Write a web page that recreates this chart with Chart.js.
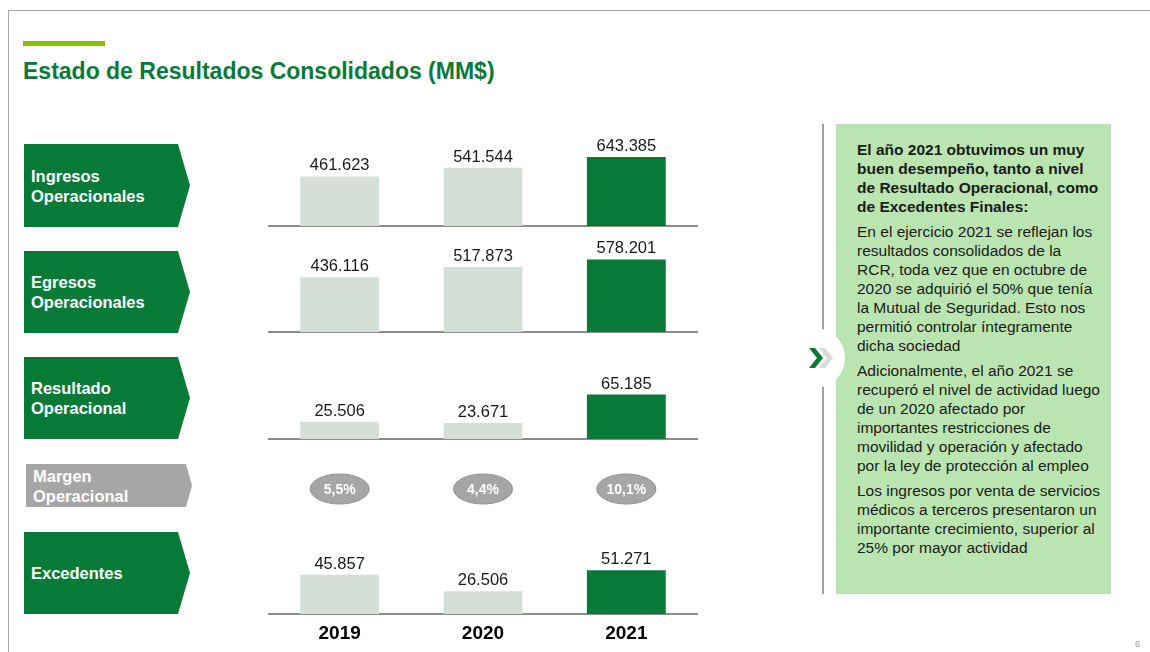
<!DOCTYPE html>
<html>
<head>
<meta charset="utf-8">
<script src="https://cdn.jsdelivr.net/npm/chart.js@4.4.1/dist/chart.umd.min.js"></script>
<style>
  body { margin: 0; background: #fff; font-family: "Liberation Sans", Arial, sans-serif; }
  #slide { position: relative; width: 1150px; height: 652px; overflow: hidden; }
  .frame { position: absolute; left: 8px; top: 10px; width: 1200px; height: 700px;
           border-top: 1.5px solid #a6a6a6; border-left: 1.5px solid #a6a6a6; }
  .accent { position: absolute; left: 23px; top: 41px; width: 82px; height: 5px; background: #86bc0c; }
  .title { position: absolute; left: 23px; top: 59px; line-height: 24px; font-size: 23px;
           font-weight: bold; color: #077a3a; white-space: nowrap; }
  .tag { position: absolute; left: 24px; width: 166px; color: #fff; font-weight: bold;
         font-size: 16.5px; line-height: 20px; display: flex; align-items: center;
         padding-left: 7px; box-sizing: border-box; background: #077a38; white-space: nowrap;
         clip-path: polygon(0 0, 154px 0, 100% 50%, 154px 100%, 0 100%); }
  .tag.grey { background: #a6a6a6; left: 26px; clip-path: polygon(0 0, 160px 0, 100% 50%, 160px 100%, 0 100%); }
  canvas { position: absolute; left: 268px; }
  .vline { position: absolute; left: 822px; top: 124px; width: 2px; height: 470px; background: #a0a0a0; }
  .box { position: absolute; left: 836px; top: 124px; width: 275px; height: 470px; background: #bbe5b0;
         box-sizing: border-box; padding: 16px 0 0 21px; font-size: 15.5px; line-height: 19px;
         color: #1a1a1a; white-space: nowrap; }
  .box p { margin: 0 0 6px 0; }
  .circle { position: absolute; left: 785px; top: 328px; width: 60px; height: 60px; border-radius: 50%; background: #fff; }
  .chev { position: absolute; top: 348px; width: 14px; height: 20px;
          clip-path: polygon(0 0, 6px 0, 100% 50%, 6px 100%, 0 100%, 8px 50%); }
  .pnum { position: absolute; left: 1135px; top: 639px; font-size: 9px; color: #999; }
</style>
</head>
<body>
<div id="slide">
  <div class="frame"></div>
  <div class="accent"></div>
  <div class="title">Estado de Resultados Consolidados (MM$)</div>

  <div class="tag" style="top:144px;height:83px;">Ingresos<br>Operacionales</div>
  <div class="tag" style="top:251px;height:82px;">Egresos<br>Operacionales</div>
  <div class="tag" style="top:357px;height:82px;">Resultado<br>Operacional</div>
  <div class="tag grey" style="top:464px;height:43px;">Margen<br>Operacional</div>
  <div class="tag" style="top:532px;height:82px;">Excedentes</div>

  <canvas id="ingresos" width="430" height="96" style="top:132px"></canvas>
  <canvas id="egresos" width="430" height="96" style="top:238px"></canvas>
  <canvas id="resultado" width="430" height="96" style="top:345px"></canvas>
  <canvas id="margen" width="430" height="38" style="top:470px"></canvas>
  <canvas id="excedentes" width="430" height="130" style="top:520px"></canvas>

  <div class="vline"></div>
  <div class="box">
    <p><b>El año 2021 obtuvimos un muy<br>buen desempeño, tanto a nivel<br>de Resultado Operacional, como<br>de Excedentes Finales:</b></p>
    <p>En el ejercicio 2021 se reflejan los<br>resultados consolidados de la<br>RCR, toda vez que en octubre de<br>2020 se adquirió el 50% que tenía<br>la Mutual de Seguridad. Esto nos<br>permitió controlar íntegramente<br>dicha sociedad</p>
    <p>Adicionalmente, el año 2021 se<br>recuperó el nivel de actividad luego<br>de un 2020 afectado por<br>importantes restricciones de<br>movilidad y operación y afectado<br>por la ley de protección al empleo</p>
    <p>Los ingresos por venta de servicios<br>médicos a terceros presentaron un<br>importante crecimiento, superior al<br>25% por mayor actividad</p>
  </div>
  <div class="circle"></div>
  <div class="chev" style="left:819px;background:#d5ddd6;"></div>
  <div class="chev" style="left:809px;background:#077a38;"></div>
  <div class="pnum">6</div>
</div>

<script>
var years = ['2019', '2020', '2021'];
var ingresos = [461623, 541544, 643385];
var egresos = [436116, 517873, 578201];
var resultado = [25506, 23671, 65185];
var margen = [5.5, 4.4, 10.1];
var excedentes = [45857, 26506, 51271];

var verdeClaro = '#d5dfd7';
var verde = '#077a38';

Chart.defaults.font.family = '"Liberation Sans", Arial, sans-serif';

function miles(v) {
    return String(v).replace(/\B(?=(\d{3})+(?!\d))/g, '.');
}

// etiquetas sobre las barras
var etiquetas = {
    id: 'etiquetas',
    afterDatasetsDraw: function (chart) {
        var ctx = chart.ctx;
        var meta = chart.getDatasetMeta(0);
        ctx.save();
        ctx.font = '16.5px "Liberation Sans", Arial, sans-serif';
        ctx.fillStyle = '#1a1a1a';
        ctx.textAlign = 'center';
        ctx.textBaseline = 'alphabetic';
        meta.data.forEach(function (bar, i) {
            ctx.fillText(miles(chart.data.datasets[0].data[i]), bar.x, bar.y - 6);
        });
        ctx.restore();
    }
};

function creaGrafico(id, valores, maximo, conAnios) {
    var alto = conAnios ? 36 : 2;
    return new Chart(document.getElementById(id), {
        type: 'bar',
        data: {
            labels: years,
            datasets: [{
                data: valores,
                backgroundColor: [verdeClaro, verdeClaro, verde],
                borderWidth: 0,
                barPercentage: 0.55,
                categoryPercentage: 1
            }]
        },
        options: {
            responsive: false,
            animation: false,
            events: [],
            layout: { padding: 0 },
            plugins: { legend: { display: false }, tooltip: { enabled: false } },
            scales: {
                x: {
                    grid: { display: false },
                    border: { display: true, color: '#8c8c8c', width: 2 },
                    ticks: {
                        display: conAnios,
                        color: '#000',
                        padding: 0,
                        font: { size: 19, weight: 'bold' }
                    },
                    afterFit: function (s) { s.height = alto; }
                },
                y: { display: false, min: 0, max: maximo }
            }
        },
        plugins: [etiquetas]
    });
}

creaGrafico('ingresos', ingresos, 875000, false);
creaGrafico('egresos', egresos, 749000, false);
creaGrafico('resultado', resultado, 138000, false);
creaGrafico('excedentes', excedentes, 110000, true);

// margen operacional: óvalos grises
var ovalos = {
    id: 'ovalos',
    afterDatasetsDraw: function (chart) {
        var ctx = chart.ctx;
        var meta = chart.getDatasetMeta(0);
        var cy = (chart.chartArea.top + chart.chartArea.bottom) / 2;
        ctx.save();
        meta.data.forEach(function (p, i) {
            ctx.beginPath();
            ctx.ellipse(p.x, cy, 29.5, 15, 0, 0, Math.PI * 2);
            ctx.fillStyle = '#a6a6a6';
            ctx.fill();
            ctx.lineWidth = 1;
            ctx.strokeStyle = '#8f8f8f';
            ctx.stroke();
            ctx.fillStyle = '#fff';
            ctx.font = 'bold 14px "Liberation Sans", Arial, sans-serif';
            ctx.textAlign = 'center';
            ctx.textBaseline = 'middle';
            ctx.fillText(String(margen[i]).replace('.', ',') + '%', p.x, cy + 1);
        });
        ctx.restore();
    }
};

new Chart(document.getElementById('margen'), {
    type: 'line',
    data: {
        labels: years,
        datasets: [{ data: margen, showLine: false, pointRadius: 0 }]
    },
    options: {
        responsive: false,
        animation: false,
        events: [],
        layout: { padding: 0 },
        plugins: { legend: { display: false }, tooltip: { enabled: false } },
        scales: {
            x: { display: false, offset: true },
            y: { display: false, min: 0, max: 20 }
        }
    },
    plugins: [ovalos]
});
</script>
</body>
</html>
